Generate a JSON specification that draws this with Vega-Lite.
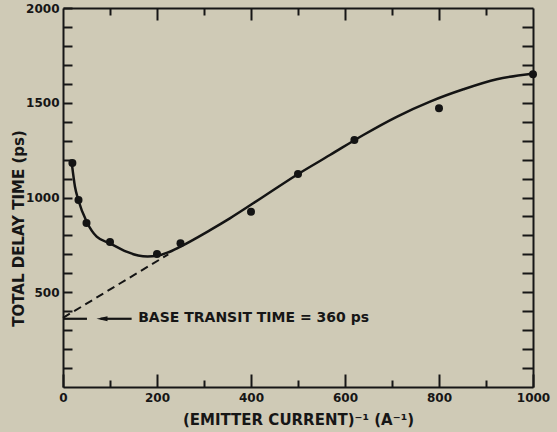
{
  "$schema": "https://vega.github.io/schema/vega-lite/v6.json",
  "width": 470,
  "height": 379,
  "autosize": "none",
  "padding": {"left": 63, "top": 8, "right": 24, "bottom": 45},
  "background": "#cfcab6",
  "config": {
    "view": {"stroke": null},
    "axis": {
      "grid": false,
      "domainColor": "#161616",
      "domainWidth": 2,
      "tickColor": "#161616",
      "tickWidth": 2,
      "labelFont": "DejaVu Sans",
      "labelFontWeight": "bold",
      "labelFontSize": 12,
      "labelColor": "#161616",
      "labelFlush": false,
      "labelOverlap": false,
      "labelBound": false,
      "titleFont": "DejaVu Sans",
      "titleFontWeight": "bold",
      "titleFontSize": 15,
      "titleColor": "#161616"
    }
  },
  "datasets": {
    "points": [
      {"x": 20, "y": 1182},
      {"x": 33, "y": 987},
      {"x": 50, "y": 865},
      {"x": 100, "y": 765},
      {"x": 200, "y": 702},
      {"x": 250, "y": 758},
      {"x": 400, "y": 925},
      {"x": 500, "y": 1124},
      {"x": 620, "y": 1303},
      {"x": 800, "y": 1471},
      {"x": 1000, "y": 1650}
    ],
    "curve": [
      {"x": 19, "y": 1175},
      {"x": 25.5, "y": 1057},
      {"x": 32.6, "y": 987},
      {"x": 50.4, "y": 872},
      {"x": 71.7, "y": 793},
      {"x": 100, "y": 758},
      {"x": 135, "y": 714},
      {"x": 160, "y": 694},
      {"x": 180, "y": 689},
      {"x": 200, "y": 693},
      {"x": 222, "y": 709},
      {"x": 249, "y": 740},
      {"x": 313, "y": 828},
      {"x": 355, "y": 890},
      {"x": 426, "y": 1004},
      {"x": 497, "y": 1119},
      {"x": 568, "y": 1224},
      {"x": 639, "y": 1330},
      {"x": 710, "y": 1426},
      {"x": 781, "y": 1506},
      {"x": 852, "y": 1571},
      {"x": 923, "y": 1624},
      {"x": 994, "y": 1652}
    ],
    "dashed": [
      {"x": 0, "y": 365},
      {"x": 224, "y": 700}
    ],
    "arrowLines": [
      {"x": 0, "x2": 51, "y": 360},
      {"x": 80, "x2": 146, "y": 360}
    ],
    "arrowHead": [
      {"x": 83, "y": 360}
    ],
    "note": [
      {"x": 160, "y": 362, "label": "BASE TRANSIT TIME = 360 ps"}
    ]
  },
  "layer": [
    {
      "data": {"name": "points"},
      "mark": {"type": "circle", "size": 64, "color": "#141414", "opacity": 1},
      "encoding": {
        "x": {
          "field": "x", "type": "quantitative",
          "scale": {"domain": [0, 1000], "nice": false, "zero": false},
          "axis": {
            "orient": "bottom",
            "values": [0, 200, 400, 600, 800, 1000],
            "format": "d",
            "tickSize": -13,
            "labelPadding": 18,
            "title": "(EMITTER CURRENT)⁻¹ (A⁻¹)",
            "titleBaseline": "alphabetic",
            "titleY": 37
          }
        },
        "y": {
          "field": "y", "type": "quantitative",
          "scale": {"domain": [0, 2000], "nice": false, "zero": false},
          "axis": {
            "orient": "left",
            "values": [100, 200, 300, 400, 500, 600, 700, 800, 900, 1000, 1100, 1200, 1300, 1400, 1500, 1600, 1700, 1800, 1900, 2000],
            "format": "d",
            "labelExpr": "datum.value % 500 === 0 ? datum.label : ''",
            "tickSize": -9,
            "labelPadding": 13,
            "title": "TOTAL DELAY TIME (ps)",
            "titleBaseline": "alphabetic",
            "titleX": -40,
            "titleY": 220
          }
        }
      }
    },
    {
      "data": {"name": "curve"},
      "mark": {"type": "line", "interpolate": "monotone", "strokeWidth": 2.5, "color": "#141414"},
      "encoding": {
        "x": {
          "field": "x", "type": "quantitative",
          "axis": {"orient": "top", "values": [200, 400, 600, 800], "tickSize": -12, "labels": false, "title": null}
        },
        "y": {
          "field": "y", "type": "quantitative",
          "axis": {
            "orient": "right",
            "values": [100, 200, 300, 400, 500, 600, 700, 800, 900, 1000, 1100, 1200, 1300, 1400, 1500, 1600, 1700, 1800, 1900],
            "tickSize": -11, "labels": false, "title": null
          }
        }
      }
    },
    {
      "data": {"name": "dashed"},
      "mark": {"type": "line", "strokeDash": [8, 5], "strokeWidth": 2, "color": "#141414"},
      "encoding": {
        "x": {
          "field": "x", "type": "quantitative",
          "axis": {"orient": "bottom", "values": [100, 300, 500, 700, 900], "tickSize": -7, "labels": false, "title": null, "domain": false}
        },
        "y": {"field": "y", "type": "quantitative", "axis": null}
      }
    },
    {
      "data": {"name": "arrowLines"},
      "mark": {"type": "rule", "strokeWidth": 2.2, "color": "#141414"},
      "encoding": {
        "x": {
          "field": "x", "type": "quantitative",
          "axis": {"orient": "top", "values": [100, 300, 500, 700, 900], "tickSize": -7, "labels": false, "title": null, "domain": false}
        },
        "x2": {"field": "x2"},
        "y": {"field": "y", "type": "quantitative", "axis": null}
      }
    },
    {
      "data": {"name": "arrowHead"},
      "mark": {"type": "point", "shape": "M-1,0L1,-0.45L1,0.45Z", "size": 121, "filled": true, "color": "#141414", "opacity": 1},
      "encoding": {
        "x": {"field": "x", "type": "quantitative", "axis": null},
        "y": {"field": "y", "type": "quantitative", "axis": null}
      }
    },
    {
      "data": {"name": "note"},
      "mark": {"type": "text", "align": "left", "baseline": "middle", "font": "DejaVu Sans", "fontWeight": "bold", "fontSize": 14, "color": "#161616"},
      "encoding": {
        "x": {"field": "x", "type": "quantitative", "axis": null},
        "y": {"field": "y", "type": "quantitative", "axis": null},
        "text": {"field": "label"}
      }
    }
  ],
  "resolve": {"axis": {"x": "independent", "y": "independent"}}
}
